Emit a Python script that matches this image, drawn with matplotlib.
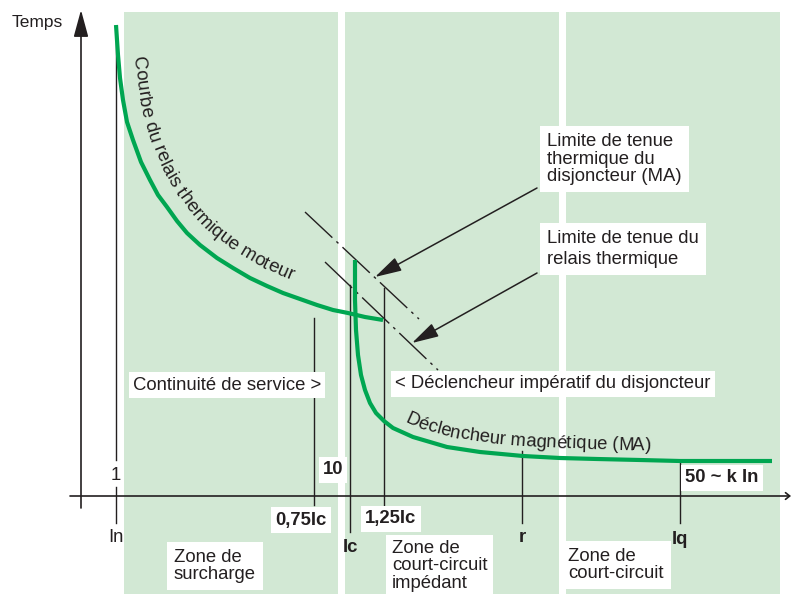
"""Motor protection coordination chart: thermal relay vs. circuit breaker."""
import numpy as np
import matplotlib
matplotlib.use("Agg")
import matplotlib.pyplot as plt
from matplotlib.patches import Rectangle
from matplotlib.font_manager import FontProperties, findfont
from matplotlib.ft2font import FT2Font

W, H, DPI = 795, 594, 100
FONT = "Liberation Sans"
FS = 13.3
INK = "#231f20"
GREEN = "#00a651"
ZONE = "#d2e8d4"

plt.rcParams.update({
    "font.family": FONT,
    "font.size": FS,
    "text.color": INK,
})

# ── data (in pixel units) ──
ZONE_SPANS = [(124, 338), (345, 559), (566, 780)]
ZONE_TOP = 12

THERM_X = [116, 118, 120, 123, 127, 133, 141, 150, 158, 167, 177, 187, 200,
           217, 233, 250, 267, 283, 300, 317, 333, 348, 365, 383]
THERM_Y = [25, 55, 78, 100, 122, 140, 162, 180, 195, 207, 221, 233, 245,
           258, 268, 278, 286, 293, 299, 305, 310, 313, 317, 320]

MAG_X = [355, 355, 356, 358, 361, 365, 370, 376, 384, 393, 413, 430, 447,
         480, 523, 560, 597, 640, 680, 772]
MAG_Y = [260, 300, 330, 355, 375, 390, 403, 413, 421, 428, 437, 442, 447,
         452, 456, 458, 459, 460, 461, 461]

# dash-dot limit lines: (x0, y0, x1, y1)
LIMIT_BREAKER = (305, 212, 419, 319)
LIMIT_RELAY = (325, 262, 438, 370)

# vertical markers: x, top, bottom (In line is split round the "1")
MARK_X = [116, 116, 314, 350, 384, 522, 680]
MARK_TOP = [28, 487, 318, 285, 288, 451, 461]
MARK_BOT = [460, 523, 505, 532, 505, 523, 523]

# text baselines for curved labels
COURBE_PX = [132, 133, 138, 147, 163, 179, 198, 226, 257, 288, 322]
COURBE_PY = [40, 54, 97, 135, 173, 198, 223, 246, 265, 279, 291]
COURBE_TXT = "Courbe du relais thermique moteur"

DECL_PX = [395, 405, 418, 450, 482, 524, 560, 597, 680]
DECL_PY = [418, 422, 428, 437, 442, 446, 448, 449, 451]
DECL_TXT = "Déclencheur magnétique (MA)"


def curved_text(ax, txt, px, py, start, size=FS):
    """Place characters one by one (as real text) along a pixel polyline."""
    font = FT2Font(findfont(FontProperties(family=FONT)))
    font.set_size(size, DPI)
    px, py = np.asarray(px, float), np.asarray(py, float)
    seg = np.hypot(np.diff(px), np.diff(py))
    cum = np.concatenate([[0], np.cumsum(seg)])
    ang = np.unwrap(np.arctan2(np.diff(py), np.diff(px)))
    mids = (cum[:-1] + cum[1:]) / 2

    pen = start
    for ch in txt:
        g = font.load_char(ord(ch))
        adv = g.linearHoriAdvance / 65536
        if ch != " ":
            lsb = g.horiBearingX / 64
            ink = g.width / 64
            s = pen + lsb
            x = np.interp(s, cum, px)
            y = np.interp(s, cum, py)
            a = np.interp(s + ink / 2, mids, ang)
            ax.text(x, y, ch, rotation=-np.degrees(a), rotation_mode="anchor",
                    ha="left", va="baseline", fontsize=size, zorder=4)
        pen += adv


def main() -> None:
    fig = plt.figure(figsize=(W / DPI, H / DPI), dpi=DPI)
    ax = fig.add_axes([0, 0, 1, 1])
    ax.set_xlim(0, W)
    ax.set_ylim(H, 0)
    ax.axis("off")

    for x0, x1 in ZONE_SPANS:
        ax.add_patch(Rectangle((x0, ZONE_TOP), x1 - x0, H - ZONE_TOP,
                               fc=ZONE, ec="none", zorder=0))

    # axes
    ax.annotate("", xy=(81, 10), xytext=(81, 508),
                arrowprops=dict(arrowstyle="-|>,head_length=1.1,head_width=0.3",
                                mutation_scale=15, color=INK, lw=1.2,
                                shrinkA=0, shrinkB=0))
    ax.annotate("", xy=(791, 496), xytext=(70, 496),
                arrowprops=dict(arrowstyle="->,head_length=0.5,head_width=0.4",
                                mutation_scale=6, color=INK, lw=1.2,
                                shrinkA=0, shrinkB=0))
    ax.text(12, 22, "Temps", ha="left", va="center", fontsize=12.5)

    for x, t, b in zip(MARK_X, MARK_TOP, MARK_BOT):
        ax.plot([x, x], [t, b], color=INK, lw=1.0, zorder=2)

    # dash-dot limits
    for x0, y0, x1, y1 in (LIMIT_BREAKER, LIMIT_RELAY):
        ax.plot([x0, x1], [y0, y1], color=INK, lw=1.0, zorder=2,
                linestyle=(0, (27, 4, 2, 4)))

    # green curves
    ax.plot(THERM_X, THERM_Y, color=GREEN, lw=3.0, solid_capstyle="butt", zorder=3)
    ax.plot(MAG_X, MAG_Y, color=GREEN, lw=3.0, solid_capstyle="butt", zorder=3)

    curved_text(ax, COURBE_TXT, COURBE_PX, COURBE_PY, start=16, size=13.6)
    curved_text(ax, DECL_TXT, DECL_PX, DECL_PY, start=9)

    box = dict(fc="white", ec="none", pad=3)
    # callouts
    ax.text(547, 159, "Limite de tenue\nthermique du\ndisjoncteur (MA)",
            ha="left", va="center", linespacing=1.05,
            bbox=dict(fc="white", ec="none", pad=5), zorder=4)
    ax.text(547, 249, "Limite de tenue du\nrelais thermique",
            ha="left", va="center", linespacing=1.35,
            bbox=dict(fc="white", ec="none", pad=5), zorder=4)
    arrow = dict(arrowstyle="-|>,head_length=1.1,head_width=0.3",
                 mutation_scale=15, color=INK, lw=1.1, shrinkA=0, shrinkB=0)
    ax.annotate("", xy=(375, 277), xytext=(537, 188), arrowprops=arrow, zorder=4)
    ax.annotate("", xy=(412, 343), xytext=(537, 273), arrowprops=arrow, zorder=4)

    ax.text(133, 385, "Continuité de service >", ha="left", va="center",
            bbox=box, zorder=4)
    ax.text(395, 384, "< Déclencheur impératif du disjoncteur", ha="left",
            va="center", bbox=box, zorder=4)

    # tick labels
    ax.text(116, 475, "1", ha="center", va="center", zorder=4)
    ax.text(116, 538, "In", ha="center", va="center", zorder=4)
    bold = dict(ha="center", va="center", fontweight="bold", zorder=4)
    ax.text(333, 470, "10", bbox=box, **bold)
    ax.text(301, 520, "0,75Ic", bbox=box, **bold)
    ax.text(391, 519, "1,25Ic", bbox=box, **bold)
    ax.text(350, 547, "Ic", **bold)
    ax.text(522, 538, "r", **bold)
    ax.text(680, 540, "Iq", **bold)
    ax.text(722, 478, "50 ~ k In", bbox=box, **bold)

    # zone labels
    ax.text(174, 566, "Zone de\nsurcharge", ha="left", va="center",
            linespacing=1.0, bbox=dict(fc="white", ec="none", pad=5), zorder=4)
    ax.text(392, 566, "Zone de\ncourt-circuit\nimpédant", ha="left",
            va="center", linespacing=1.03,
            bbox=dict(fc="white", ec="none", pad=4), zorder=4)
    ax.text(568, 565, "Zone de\ncourt-circuit", ha="left", va="center",
            linespacing=1.0, bbox=dict(fc="white", ec="none", pad=5), zorder=4)

    fig.savefig("out.png", dpi=DPI)


if __name__ == "__main__":
    main()
